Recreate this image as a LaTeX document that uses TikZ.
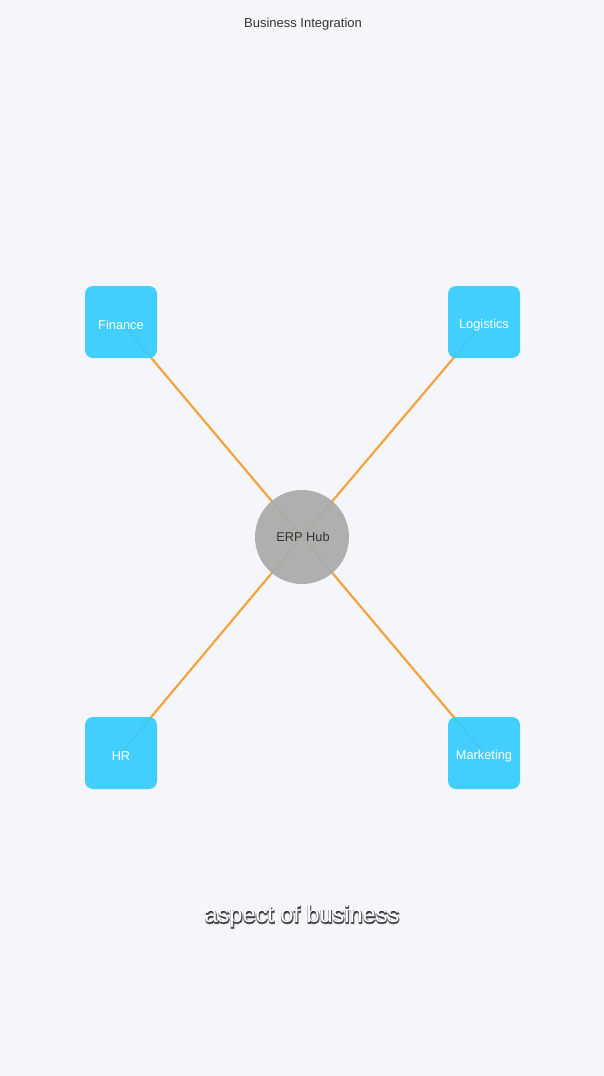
\documentclass[tikz,border=0pt]{standalone}
\usepackage{fontspec}
\setmainfont{Liberation Sans}
\newfontfamily\glowfont{Liberation Sans}[FakeBold=7]
\definecolor{bg}{HTML}{F5F6FB}
\definecolor{boxc}{HTML}{33CCFF}
\definecolor{linec}{HTML}{F4A43C}
\definecolor{hubc}{HTML}{AAAAAA}
\definecolor{txt}{HTML}{333333}
\begin{document}
\begin{tikzpicture}[x=1pt,y=-1pt,
  dept/.style={draw=none,fill=boxc,fill opacity=0.92,text opacity=1,rounded corners=8pt,minimum width=72pt,minimum height=72pt,inner sep=0pt},
  hub/.style={circle,draw=none,fill=hubc,fill opacity=0.92,minimum size=94pt,inner sep=0pt},
  lbl/.style={text=white,font=\fontsize{12.8pt}{14pt}\selectfont},
  link/.style={draw=linec,line width=2.2pt}]
\fill[bg] (0,0) rectangle (604,1076);
\useasboundingbox (0,0) rectangle (604,1076);
\node[text=txt,font=\fontsize{13pt}{15pt}\selectfont] (title) at (303,24) {Business Integration};
\coordinate (cF) at (121,322);
\coordinate (cL) at (484,322);
\coordinate (cH) at (121,753);
\coordinate (cM) at (484,753);
\coordinate (cE) at (302,537);
\draw[link] (cE) -- (cF);
\draw[link] (cE) -- (cL);
\draw[link] (cE) -- (cH);
\draw[link] (cE) -- (cM);
\node[dept] (fin) at (cF) {};
\node[dept] (log) at (cL) {};
\node[dept] (hr) at (cH) {};
\node[dept] (mkt) at (cM) {};
\node[hub] (erp) at (cE) {};
\node[lbl] (finl) at (121,325) {Finance};
\node[lbl] (logl) at (484,325) {Logistics};
\node[lbl] (hrl) at (121,756) {HR};
\node[lbl] (mktl) at (484,756) {Marketing};
\node[lbl,text=txt] (erpl) at (303,537) {ERP Hub};
\node[text=black,text opacity=0.55,font=\glowfont\fontsize{23.5pt}{26pt}\selectfont] (capsh) at (302.3,917.2) {aspect of business};
\node[text=white,font=\fontsize{23.5pt}{26pt}\selectfont] (cap) at (302,916) {aspect of business};
\end{tikzpicture}
\end{document}
